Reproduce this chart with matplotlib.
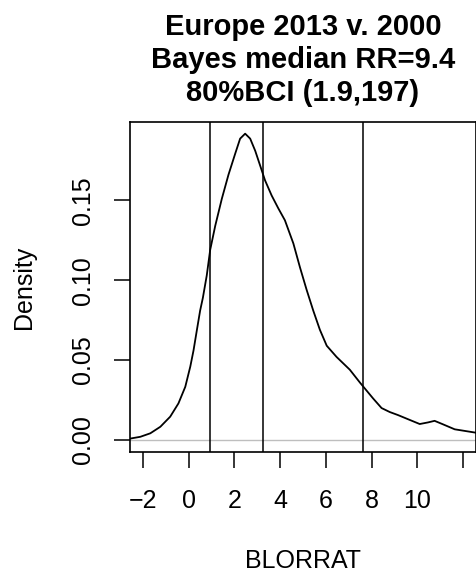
import matplotlib
matplotlib.use("Agg")
import matplotlib.pyplot as plt

plt.rcParams["font.family"] = ["Liberation Sans", "DejaVu Sans"]

# density curve of BLORRAT
blorrat = [-2.6, -2.12, -1.68, -1.24, -0.81, -0.45, -0.15, 0.07, 0.21, 0.36, 0.50,
           0.62, 0.79, 0.94, 1.16, 1.45, 1.74, 2.03, 2.25, 2.47, 2.69, 2.91, 3.12,
           3.34, 3.63, 3.92, 4.21, 4.58, 4.87, 5.16, 5.45, 5.74, 6.04, 6.47, 7.05,
           7.49, 7.78, 8.07, 8.44, 8.80, 9.16, 9.60, 10.11, 10.47, 10.76, 11.13,
           11.64, 12.6]
density = [0.0008, 0.002, 0.0042, 0.0083, 0.0146, 0.0229, 0.0333, 0.046, 0.056,
           0.069, 0.081, 0.089, 0.103, 0.119, 0.134, 0.151, 0.166, 0.179, 0.1886,
           0.1917, 0.1886, 0.181, 0.172, 0.1625, 0.153, 0.145, 0.1375, 0.123, 0.108,
           0.094, 0.081, 0.069, 0.059, 0.052, 0.044, 0.036, 0.031, 0.026, 0.020,
           0.0175, 0.0156, 0.013, 0.010, 0.011, 0.012, 0.0098, 0.0067, 0.0045]

# log2 of 80% BCI lower, median, upper (1.9, 9.4, 197)
vlines = [0.93, 3.23, 7.62]

xticks = [-2, 0, 2, 4, 6, 8, 10, 12]
xticklabels = ["\u22122", "0", "2", "4", "6", "8", "10", ""]
yticks = [0.00, 0.05, 0.10, 0.15]
yticklabels = ["0.00", "0.05", "0.10", "0.15"]

fig = plt.figure(figsize=(4.77, 5.72), dpi=100)
ax = fig.add_axes([0.2725, 0.2098, 0.7248, 0.5769])

ax.axhline(0, color="#bebebe", lw=1.0, zorder=1)
ax.plot(blorrat, density, color="black", lw=1.3, zorder=3,
        solid_joinstyle="round", solid_capstyle="round")
for v in vlines:
    ax.axvline(v, color="black", lw=1.1, zorder=2)

ax.set_xlim(-2.57, 12.56)
ax.set_ylim(-0.0075, 0.199)

ax.set_xticks(xticks)
ax.set_xticklabels(xticklabels)
ax.set_yticks(yticks)
ax.set_yticklabels(yticklabels, rotation=90, va="center")

ax.tick_params(axis="both", direction="out", length=11.5, width=1.1, labelsize=18, color="black")
ax.tick_params(axis="x", pad=15)
ax.tick_params(axis="y", pad=14)
for s in ax.spines.values():
    s.set_linewidth(1.2)

ax.set_xlabel("BLORRAT", fontsize=18, labelpad=26)
ax.set_ylabel("Density", fontsize=18, labelpad=25)
ax.set_title("Europe 2013 v. 2000\nBayes median RR=9.4\n80%BCI (1.9,197)",
             fontsize=21, fontweight="bold", linespacing=1.22, pad=15)

fig.savefig("out.png", dpi=100)
